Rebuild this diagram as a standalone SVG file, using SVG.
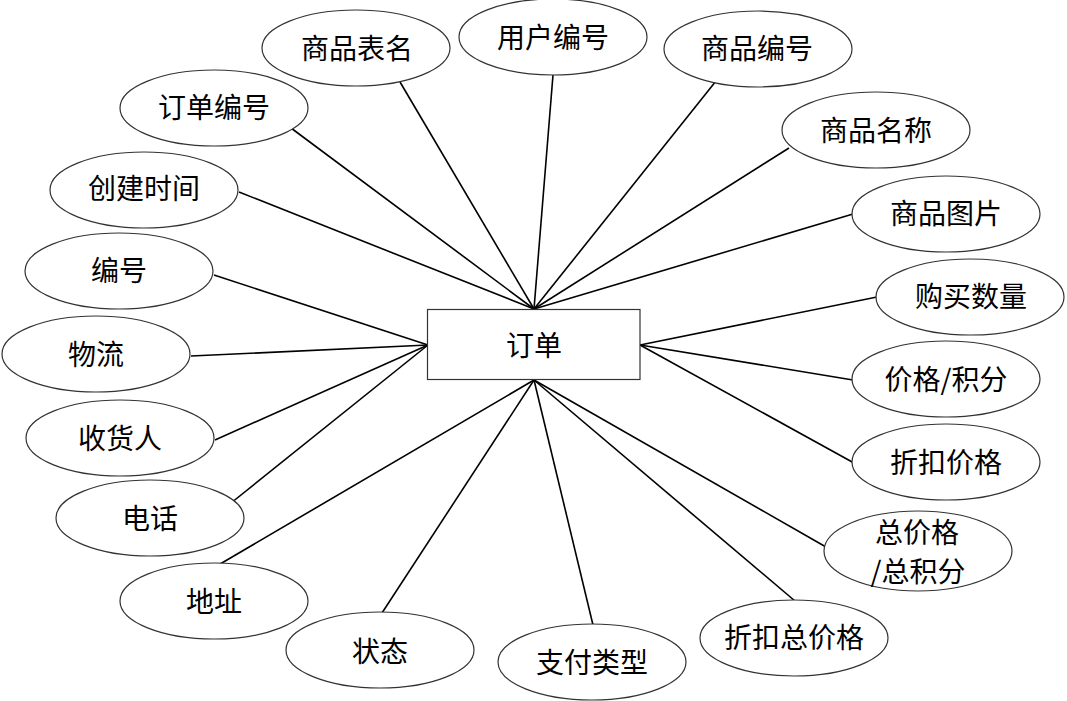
<svg xmlns="http://www.w3.org/2000/svg" width="1067" height="701" viewBox="0 0 1067 701">
<style>
.bg{fill:#fff}
.e{fill:#fff;stroke:#333;stroke-width:1.2}
.r{fill:#fff;stroke:#333;stroke-width:1.2}
.c line{stroke:#000;stroke-width:1.6}
text{font-family:"Noto Sans CJK SC","Noto Sans",sans-serif;font-size:28px;fill:#000;text-anchor:middle;dominant-baseline:central}
</style>
<rect class="bg" width="1067" height="701"/>
<g id="connectors" class="c">
<line x1="534" y1="309" x2="400" y2="82"/>
<line x1="534" y1="309" x2="553" y2="75"/>
<line x1="534" y1="309" x2="716" y2="81"/>
<line x1="534" y1="309" x2="291" y2="128"/>
<line x1="534" y1="309" x2="239" y2="192"/>
<line x1="534" y1="309" x2="789" y2="148"/>
<line x1="534" y1="309" x2="853" y2="214"/>
<line x1="428" y1="345" x2="214" y2="275"/>
<line x1="428" y1="345" x2="191" y2="356"/>
<line x1="428" y1="345" x2="215" y2="440"/>
<line x1="428" y1="345" x2="231" y2="503"/>
<line x1="640" y1="345" x2="877" y2="297"/>
<line x1="640" y1="345" x2="853" y2="380"/>
<line x1="640" y1="345" x2="854" y2="463"/>
<line x1="534" y1="380" x2="215" y2="567"/>
<line x1="534" y1="380" x2="380" y2="616"/>
<line x1="534" y1="380" x2="593" y2="625"/>
<line x1="534" y1="380" x2="795" y2="601"/>
<line x1="534" y1="380" x2="826" y2="547"/>
</g>
<g id="order"><rect class="r" x="427.5" y="309.5" width="212.5" height="70"/><text x="534" y="344">订单</text></g>
<g id="a1"><ellipse class="e" cx="356" cy="48" rx="94" ry="38"/><text x="357" y="47">商品表名</text></g>
<g id="a2"><ellipse class="e" cx="553" cy="37" rx="94" ry="38"/><text x="553" y="36">用户编号</text></g>
<g id="a3"><ellipse class="e" cx="758" cy="49" rx="94" ry="38"/><text x="757" y="47">商品编号</text></g>
<g id="a4"><ellipse class="e" cx="214" cy="108" rx="94" ry="38"/><text x="214" y="106">订单编号</text></g>
<g id="a5"><ellipse class="e" cx="876" cy="130" rx="94" ry="38"/><text x="876" y="129">商品名称</text></g>
<g id="a6"><ellipse class="e" cx="144" cy="190" rx="94" ry="38"/><text x="144" y="187">创建时间</text></g>
<g id="a7"><ellipse class="e" cx="946" cy="214" rx="94" ry="38"/><text x="946" y="212">商品图片</text></g>
<g id="a8"><ellipse class="e" cx="119" cy="271" rx="94" ry="38"/><text x="119" y="269">编号</text></g>
<g id="a9"><ellipse class="e" cx="970" cy="297" rx="94" ry="38"/><text x="971" y="295">购买数量</text></g>
<g id="a10"><ellipse class="e" cx="96" cy="354" rx="94" ry="38"/><text x="96" y="353">物流</text></g>
<g id="a11"><ellipse class="e" cx="946" cy="379" rx="94" ry="38"/><text x="946" y="378">价格/积分</text></g>
<g id="a12"><ellipse class="e" cx="120" cy="438" rx="94" ry="38"/><text x="120" y="437">收货人</text></g>
<g id="a13"><ellipse class="e" cx="946" cy="462" rx="94" ry="38"/><text x="946" y="461">折扣价格</text></g>
<g id="a14"><ellipse class="e" cx="150" cy="518" rx="94" ry="38"/><text x="150" y="517">电话</text></g>
<g id="a15"><ellipse class="e" cx="918" cy="551" rx="94" ry="40"/><text x="917" y="531" font-size="27">总价格</text><text x="918" y="570" font-size="27">/总积分</text></g>
<g id="a16"><ellipse class="e" cx="214" cy="601" rx="94" ry="38"/><text x="214" y="600">地址</text></g>
<g id="a17"><ellipse class="e" cx="794" cy="638" rx="94" ry="38"/><text x="794" y="636">折扣总价格</text></g>
<g id="a18"><ellipse class="e" cx="380" cy="650" rx="94" ry="38"/><text x="380" y="650">状态</text></g>
<g id="a19"><ellipse class="e" cx="592" cy="662" rx="94" ry="38"/><text x="592" y="661">支付类型</text></g>
</svg>
